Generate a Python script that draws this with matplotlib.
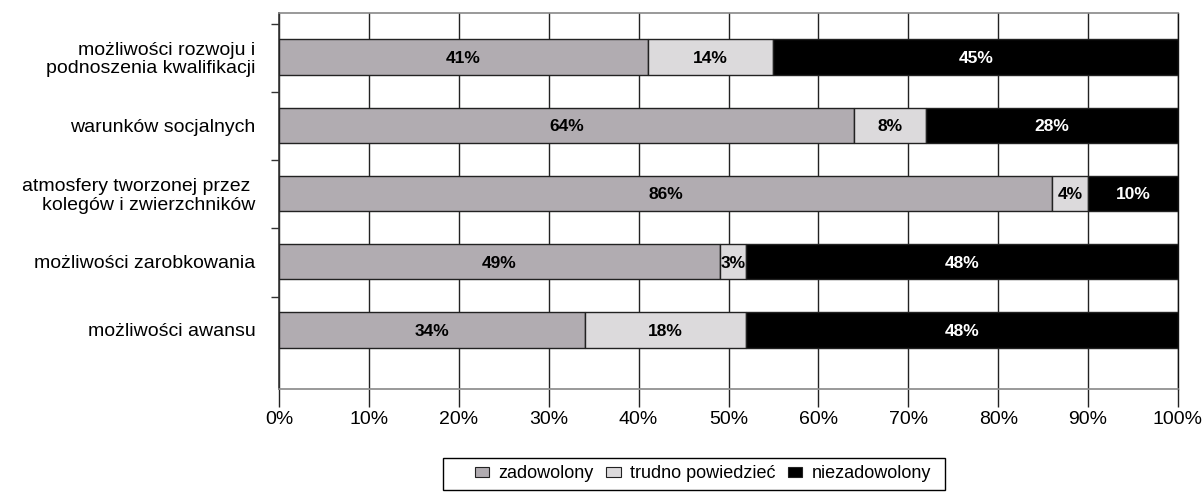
import matplotlib
matplotlib.use("Agg")
import matplotlib.pyplot as plt
from matplotlib.patches import Patch, Rectangle
import numpy as np

plt.rcParams['font.family'] = ['Liberation Sans', 'DejaVu Sans']

categories = [
    "możliwości rozwoju i\npodnoszenia kwalifikacji",
    "warunków socjalnych",
    "atmosfery tworzonej przez \nkolegów i zwierzchników",
    "możliwości zarobkowania",
    "możliwości awansu",
]
series_names = ["zadowolony", "trudno powiedzieć", "niezadowolony"]
zadowolony = [41, 64, 86, 49, 34]
trudno = [14, 8, 4, 3, 18]
niezadowolony = [45, 28, 10, 48, 48]
x_ticks = [0, 10, 20, 30, 40, 50, 60, 70, 80, 90, 100]

colors = ["#b1acb1", "#dcdadc", "#000000"]
text_colors = ["black", "black", "white"]

W, H = 1202, 496
fig = plt.figure(figsize=(W/100, H/100), dpi=100)
ax = fig.add_axes([279/W, 1-389/H, (1178-279)/W, (389-13)/H])

y = np.arange(len(categories))
left = np.zeros(len(categories))
for vals, c, tc, name in zip([zadowolony, trudno, niezadowolony], colors, text_colors, series_names):
    vals = np.array(vals, dtype=float)
    ax.barh(y, vals, left=left, height=0.52, color=c, edgecolor="#222222",
            linewidth=1.0, label=name, zorder=3)
    for yi, l, v in zip(y, left, vals):
        ax.text(l + v/2, yi + 0.02, f"{int(v)}%", ha="center", va="center",
                fontsize=12.5, fontweight="bold", color=tc, zorder=4)
    left += vals

ax.set_xlim(0, 100)
ax.set_ylim(4.865, -0.645)
ax.set_xticks(x_ticks)
ax.set_xticklabels([f"{t}%" for t in x_ticks], fontsize=14)
ax.tick_params(axis="x", direction="out", length=13, width=1.0, color="#222222", pad=3)
ax.xaxis.grid(True, color="#222222", linewidth=1.0, zorder=0)

ax.set_yticks(y)
ax.set_yticklabels(categories, fontsize=14, ha="right", linespacing=1.1)
ax.tick_params(axis="y", which="major", length=0, pad=17)
ax.set_yticks(y - 0.49, minor=True)
ax.tick_params(axis="y", which="minor", direction="out", length=6, width=1.0, color="#333333")

for s in ["top", "bottom"]:
    ax.spines[s].set_color("#888888")
    ax.spines[s].set_linewidth(1.2)
ax.spines["left"].set_color("#333333")
ax.spines["left"].set_linewidth(1.2)
ax.spines["right"].set_color("#111111")
ax.spines["right"].set_linewidth(1.0)

# legend frame
fig.patches.append(Rectangle((443/W, 1-490/H), (945-443)/W, 32/H, transform=fig.transFigure,
                             facecolor="white", edgecolor="black", linewidth=1.0))
handles = [Patch(facecolor=c, edgecolor="#222222", linewidth=0.8) for c in colors]
leg = fig.legend(handles, series_names, loc="center left", bbox_to_anchor=(475/W, 1-474/H),
                 ncol=3, fontsize=13, frameon=False,
                 handlelength=0.8, handleheight=0.5, handletextpad=0.5, columnspacing=0.7,
                 borderpad=0, borderaxespad=0)

fig.savefig("out.png", dpi=100)
